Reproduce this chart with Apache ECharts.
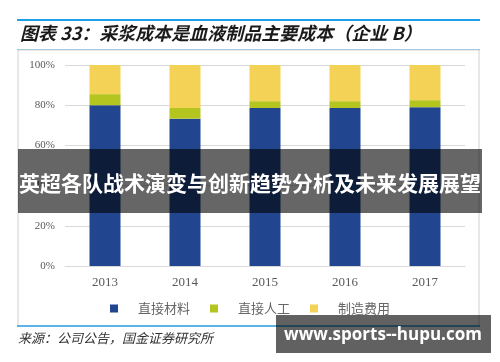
<!DOCTYPE html>
<html><head><meta charset="utf-8">
<script src="https://cdn.jsdelivr.net/npm/echarts@6/dist/echarts.min.js"></script>
<style>html,body{margin:0;padding:0;background:#fff}#c{width:500px;height:362px}</style>
</head><body><div id="c"></div>
<script>
const categories = ['2013','2014','2015','2016','2017'];
const material = [80.0, 73.3, 78.6, 78.6, 79.0];
const labor = [5.5, 5.3, 3.4, 3.4, 3.5];
const manufacturing = [14.5, 21.4, 18.0, 18.0, 17.5];
const yTicks = ['0%','20%','40%','60%','80%','100%'];
const seriesNames = ['直接材料','直接人工','制造费用'];
const colors = ['#21468F','#B5C51F','#F3D256'];

const chart = echarts.init(document.getElementById('c'));
const serif = '"Liberation Serif","DejaVu Serif",serif';
const cjk = '"Noto Sans CJK SC",sans-serif';
const mk = (name, data, i) => ({
  name, type:'bar', stack:'total', data, barWidth:31,
  itemStyle:{color:colors[i]}, emphasis:{disabled:true}
});
chart.setOption({
  backgroundColor:'#fff',
  animation:false,
  grid:{left:65,right:35,top:65,bottom:96},
  legend:{
    bottom:42, left:'center', itemWidth:8, itemHeight:8, itemGap:20,
    icon:'rect',
    textStyle:{fontFamily:cjk,fontSize:13,color:'#666',padding:[0,0,0,15]},
    data:seriesNames
  },
  xAxis:{type:'category',data:categories,
    axisLine:{lineStyle:{color:'#d9d9d9'}},axisTick:{show:false},
    axisLabel:{fontFamily:serif,fontSize:13,color:'#595959',margin:10}},
  yAxis:{type:'value',min:0,max:100,interval:20,
    axisLine:{show:false},axisTick:{show:false},
    splitLine:{lineStyle:{color:'#d9d9d9'}},
    axisLabel:{fontFamily:serif,fontSize:11,color:'#595959',margin:10,
      formatter:(v)=>yTicks[Math.round(v/20)]}},
  series:[mk(seriesNames[0],material,0),mk(seriesNames[1],labor,1),mk(seriesNames[2],manufacturing,2)],
  graphic:[
    {type:'rect',shape:{x:17,y:19,width:463,height:2},style:{fill:'#1AA0E8'},silent:true},
    {type:'text',left:20,top:24,style:{text:'图表 33：采浆成本是血液制品主要成本（企业 B）',fontFamily:cjk,fontSize:18,fontStyle:'italic',fontWeight:'bold',fill:'#1a1a1a'}},
    {type:'rect',shape:{x:17,y:49,width:463,height:1},style:{fill:'#7CC4EE'},silent:true},
    {type:'rect',shape:{x:18,y:50,width:461,height:276},style:{fill:'none',stroke:'#d0d0d0',lineWidth:1},silent:true},
    {type:'rect',shape:{x:17,y:325,width:463,height:2},style:{fill:'#5AB4E5'},silent:true},
    {type:'text',left:18,top:332,style:{text:'来源：公司公告，国金证券研究所',fontFamily:cjk,fontSize:13,fontStyle:'italic',fill:'#333'}},
    {type:'rect',shape:{x:18,y:149,width:464,height:64},style:{fill:'rgba(0,0,0,0.6)'},silent:true,z:100},
    {type:'text',x:250,y:183,z:101,style:{text:'英超各队战术演变与创新趋势分析及未来发展展望',fontFamily:cjk,fontSize:21,fontWeight:'bold',fill:'#fff',align:'center',verticalAlign:'middle'}},
    {type:'rect',shape:{x:276,y:315,width:215,height:38},style:{fill:'rgba(0,0,0,0.62)'},silent:true,z:100},
    {type:'text',x:383,y:335,z:101,style:{text:'www.sports--hupu.com',fontFamily:'"Open Sans","DejaVu Sans",sans-serif',fontSize:17,fontWeight:'bold',fill:'#fff',align:'center',verticalAlign:'middle'}}
  ]
});
</script></body></html>
